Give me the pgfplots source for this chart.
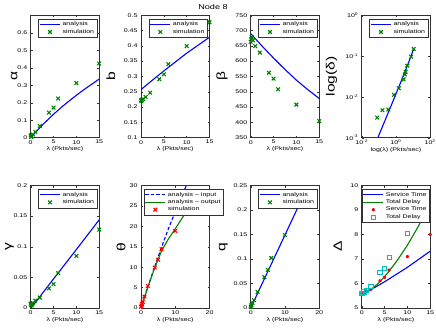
\documentclass[border=0pt]{standalone}
\usepackage{fontspec}
\setmainfont{Liberation Sans}[FakeStretch=1.3]
\usepackage{pgfplots}
\pgfplotsset{compat=1.18}
\definecolor{mgreen}{RGB}{0,128,0}
\definecolor{mcyan}{RGB}{0,191,191}
\newcommand{\tk}{\fontsize{5.4}{6}\selectfont}

\pgfplotsset{
  panel/.style={
    scale only axis, width=68.5pt, height=122.5pt,
    font=\tk, tick label style={font=\tk},
    /pgf/number format/assume math mode=true,
    /pgf/number format/fixed, /pgf/number format/precision=3,
    scaled ticks=false,
    major tick length=2pt, minor tick length=1pt,
    axis line style={black!80, line width=0.5pt},
    every tick/.style={black!80, line width=0.4pt},
    xlabel={λ (Pkts/sec)},
    xlabel style={font=\tk, yshift=4pt},
    xticklabel style={yshift=1pt},
    ylabel style={font=\fontsize{12}{12}\selectfont, anchor=center},
    legend cell align=left,
    legend image code/.code={\draw[mark repeat=2, mark phase=2, ##1]
      plot coordinates {(0pt,0pt) (10pt,0pt) (20pt,0pt)};},
    legend style={font=\tk, at={(0.97,0.97)}, anchor=north east,
      inner sep=0.8pt, row sep=-2pt, draw=black!80, line width=0.4pt},
  },
  ylab/.style={ylabel style={at={(axis description cs:#1,0.5)}}},
  ana/.style={blue, line width=1.1pt, no markers},
  sim/.style={only marks, mark=x, mgreen, mark size=2.6pt, mark options={line width=1.1pt}},
}

\begin{document}
\begin{tikzpicture}
\path[use as bounding box] (0,0) rectangle (436pt,327pt);
\node[font=\fontsize{7}{8}\selectfont] at (213pt,319.5pt) {Node 8};

% alpha
\begin{axis}[panel, at={(30.7pt,189.3pt)}, anchor=south west,
  xmin=0, xmax=15, ymin=0, ymax=0.7, xtick={0,5,10,15},
  ytick={0,0.1,0.2,0.3,0.4,0.5,0.6}, ylabel={α}, ylab=-0.24]
\addplot[ana] coordinates {(0,0)(1,0.029)(2,0.057)(3,0.084)(4,0.109)(5,0.134)
  (6,0.157)(7,0.18)(8,0.201)(9,0.222)(10,0.242)(11,0.262)(12,0.281)(13,0.299)(14,0.317)(15,0.335)};
\addplot[sim] coordinates {(0,0.013)(0.1,0.004)(0.2,0.01)(0.5,0.018)(1,0.033)(2,0.067)
  (4,0.143)(5,0.172)(6,0.224)(10,0.312)(15,0.424)};
\legend{analysis, simulation}
\end{axis}

% b
\begin{axis}[panel, at={(141pt,189.3pt)}, anchor=south west,
  xmin=0, xmax=15, ymin=0.1, ymax=0.5, xtick={0,5,10,15},
  ytick={0.1,0.15,0.2,0.25,0.3,0.35,0.4,0.45,0.5}, ylabel={b}, ylab=-0.44]
\addplot[ana] coordinates {(0,0.257)(2.5,0.288)(5,0.318)(7.5,0.347)(10,0.376)(12.5,0.402)(15,0.428)};
\addplot[sim] coordinates {(0,0.222)(0.1,0.219)(0.2,0.224)(0.5,0.226)(1,0.233)(2,0.247)
  (4,0.291)(5,0.307)(6,0.34)(10,0.399)(15,0.477)};
\legend{analysis, simulation}
\end{axis}

% beta
\begin{axis}[panel, at={(250.7pt,189.3pt)}, anchor=south west,
  xmin=0, xmax=15, ymin=350, ymax=750, xtick={0,5,10,15},
  ytick={350,400,...,750}, ylabel={β}, ylab=-0.42]
\addplot[ana] coordinates {(0,690)(2.5,649)(5,610)(7.5,573)(10,538)(12.5,507)(15,478)};
\addplot[sim] coordinates {(0,663)(0.1,672)(0.2,679)(0.5,668)(1,649)(2,628)
  (4,562)(5,543)(6,508)(10,458)(15,404)};
\legend{analysis, simulation}
\end{axis}

% log delta
\begin{axis}[panel, at={(361.7pt,189.3pt)}, anchor=south west,
  xmode=log, ymode=log, xmin=1e-2, xmax=1e2, ymin=1e-3, ymax=1,
  xtick={1e-2,1,1e2}, xticklabels={10\textsuperscript{-2},10\textsuperscript{0},10\textsuperscript{2}},
  ytick={1e-3,1e-2,1e-1,1}, yticklabels={10\textsuperscript{-3},10\textsuperscript{-2},10\textsuperscript{-1},10\textsuperscript{0}},
  xminorticks=false, yminorticks=false,
  xlabel={log(λ) (Pkts/sec)}, ylabel={log(δ)}, ylab=-0.44]
\addplot[ana] coordinates {(0.091,0.00104)(0.2,0.0023)(0.5,0.0058)(1,0.0118)(2,0.024)(5,0.063)(11,0.152)};
\addplot[sim] coordinates {(0.08,0.0031)(0.163,0.0047)(0.361,0.0049)(0.767,0.0112)(1.49,0.0163)
  (2.77,0.0267)(3.3,0.0355)(3.7,0.0412)(4.6,0.058)(7.67,0.0964)(10.9,0.149)};
\legend{analysis, simulation}
\end{axis}

% gamma
\begin{axis}[panel, at={(30.7pt,19pt)}, anchor=south west,
  xmin=0, xmax=15, ymin=0, ymax=0.2, xtick={0,5,10,15},
  ytick={0,0.05,0.1,0.15,0.2}, ylabel={γ}, ylab=-0.31]
\addplot[ana] coordinates {(0.3,0.002)(5,0.0475)(10,0.0955)(15,0.144)};
\addplot[sim] coordinates {(0,0.007)(0.1,0.005)(0.2,0.004)(0.5,0.008)(1,0.012)(2,0.017)
  (4,0.032)(5,0.039)(6,0.057)(10,0.085)(15,0.128)};
\legend{analysis, simulation}
\end{axis}

% theta
\begin{axis}[panel, at={(141pt,19pt)}, anchor=south west,
  xmin=0, xmax=20, ymin=0, ymax=30, xtick={0,10,20},
  ytick={0,5,...,30}, ylabel={θ}, ylab=-0.29,
  legend style={at={(0.04,0.97)}, anchor=north west}]
\addplot[blue, line width=1.1pt, dash pattern=on 3.5pt off 2pt] coordinates
  {(0,0)(2,5.2)(4,10.1)(6,14.9)(8,19.4)(10,23.6)(12,27.6)(13.5,30.5)};
\addplot[mgreen, line width=1.1pt] coordinates
  {(0,0)(2,5.1)(4,9.8)(6,14.0)(8,16.9)(10,19.4)(12,22.0)(14,24.4)(16,26.6)(18,28.6)};
\addplot[only marks, mark=x, red, mark size=2.6pt, mark options={line width=1.1pt}] coordinates
  {(0,0.3)(0.2,0.6)(0.3,1.0)(0.5,1.5)(1,2.8)(2,5.4)(4,9.9)(5,11.8)(6,14.4)(10,18.9)(15,23.1)};
\legend{analysis – input, analysis – output, simulation}
\end{axis}

% q
\begin{axis}[panel, at={(250.7pt,19pt)}, anchor=south west,
  xmin=0, xmax=20, ymin=0, ymax=0.25, xtick={0,10,20},
  ytick={0,0.05,0.1,0.15,0.2,0.25}, ylabel={q}, ylab=-0.40]
\addplot[ana] coordinates {(0,0)(5,0.0745)(10,0.149)(15,0.2235)};
\addplot[sim] coordinates {(0,0.003)(0.1,0.002)(0.2,0.006)(0.5,0.01)(1,0.016)(2,0.033)
  (4,0.063)(5,0.078)(6,0.102)(10,0.149)};
\legend{analysis, simulation}
\end{axis}

% Delta
\begin{axis}[panel, at={(361.7pt,19pt)}, anchor=south west,
  xmin=0, xmax=15, ymin=5, ymax=10, xtick={0,5,10,15},
  ytick={5,6,...,10}, ylabel={Δ}, ylab=-0.35,
  legend style={at={(0.99,0.97)}, anchor=north east}]
\addplot[ana] coordinates {(0,5.53)(5,6.07)(10,6.66)(15,7.32)};
\addplot[mgreen, line width=1.1pt] coordinates {(0,5.53)(2,5.75)(4,6.07)(6,6.5)(8,7.0)(10,7.56)(12,8.2)(14,8.9)(15,9.3)};
\addplot[only marks, mark=asterisk, red, mark size=1.6pt, mark options={line width=1pt}] coordinates
  {(0,5.55)(0.2,5.57)(0.5,5.62)(1,5.68)(2,5.76)(4,6.11)(5,6.25)(6,6.55)(10,7.1)(15,8.0)};
\addplot[only marks, mark=square, mcyan, mark size=2.1pt, mark options={line width=0.8pt}] coordinates
  {(0,5.58)(0.2,5.61)(0.5,5.66)(1,5.73)(2,5.89)(4,6.44)(5,6.63)(6,7.08)(10,8.06)};
\node[anchor=south west, font=\fontsize{4.5}{5}\selectfont, inner sep=0.5pt] at (rel axis cs:0,1) {x 10\textsuperscript{-3}};
\legend{Service Time, Total Delay, Service Time, Total Delay}
\end{axis}
\end{tikzpicture}
\end{document}
